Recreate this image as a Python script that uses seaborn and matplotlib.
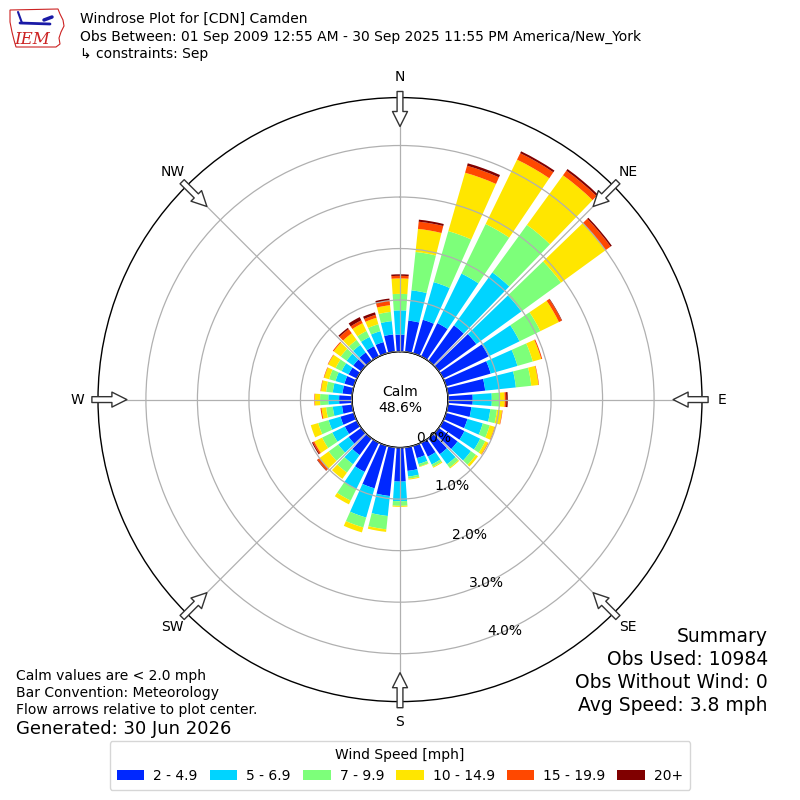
import numpy as np
import matplotlib
matplotlib.use("Agg")
import matplotlib.pyplot as plt
from matplotlib.patches import Patch, Circle, Polygon
import seaborn as sns

# ---------------- data (percent of observations) ----------------
directions = list(range(0, 360, 10))
speed_bins = ["2 - 4.9", "5 - 6.9", "7 - 9.9", "10 - 14.9", "15 - 19.9", "20+"]
bin_colors = ["#0028ff", "#00d4ff", "#7dff7a", "#ffe600", "#ff4800", "#800000"]

freq_2_5 = [0.33, 0.61, 0.68, 0.72, 0.85, 0.90, 0.98, 0.90, 0.73, 0.48, 0.46, 0.43,
            0.46, 0.45, 0.38, 0.30, 0.25, 0.46, 0.66, 0.95, 0.86, 0.63, 0.40, 0.30,
            0.26, 0.27, 0.20, 0.25, 0.19, 0.19, 0.18, 0.19, 0.20, 0.22, 0.23, 0.34]
freq_5_7 = [0.47, 0.59, 0.76, 1.07, 1.27, 1.08, 0.67, 0.54, 0.60, 0.37, 0.37, 0.31,
            0.34, 0.32, 0.24, 0.17, 0.12, 0.11, 0.38, 0.39, 0.59, 0.37, 0.22, 0.25,
            0.27, 0.24, 0.18, 0.21, 0.19, 0.18, 0.15, 0.16, 0.18, 0.20, 0.22, 0.26]
freq_7_10 = [0.32, 0.75, 1.03, 1.07, 1.14, 0.95, 0.45, 0.31, 0.30, 0.16, 0.13, 0.14,
             0.11, 0.12, 0.08, 0.05, 0.05, 0.04, 0.09, 0.26, 0.20, 0.25, 0.20, 0.23,
             0.22, 0.21, 0.13, 0.16, 0.13, 0.13, 0.13, 0.14, 0.12, 0.13, 0.14, 0.18]
freq_10_15 = [0.30, 0.45, 1.18, 1.39, 1.19, 1.07, 0.40, 0.17, 0.14, 0.09, 0.10, 0.10,
              0.06, 0.05, 0.02, 0.02, 0.01, 0.02, 0.02, 0.05, 0.10, 0.08, 0.15, 0.22,
              0.17, 0.15, 0.09, 0.10, 0.10, 0.10, 0.16, 0.17, 0.16, 0.17, 0.13, 0.13]
freq_15_20 = [0.05, 0.14, 0.14, 0.14, 0.11, 0.12, 0.06, 0.02, 0.01, 0.03, 0.01, 0.01,
              0.01, 0.00, 0.00, 0.00, 0.00, 0.00, 0.00, 0.00, 0.00, 0.00, 0.00, 0.05,
              0.03, 0.00, 0.02, 0.01, 0.01, 0.01, 0.01, 0.02, 0.10, 0.06, 0.06, 0.09]
freq_20p = [0.03, 0.04, 0.05, 0.04, 0.04, 0.03, 0.01, 0.00, 0.00, 0.03, 0.00, 0.00,
            0.00, 0.00, 0.00, 0.00, 0.00, 0.00, 0.00, 0.00, 0.00, 0.00, 0.00, 0.01,
            0.02, 0.00, 0.00, 0.00, 0.00, 0.00, 0.00, 0.00, 0.03, 0.07, 0.05, 0.04]
series = [freq_2_5, freq_5_7, freq_7_10, freq_10_15, freq_15_20, freq_20p]

calm_pct = 48.6
ring_ticks = [0, 1, 2, 3, 4]
compass_angles = [0, 45, 90, 135, 180, 225, 270, 315]
compass_labels = ["N", "NE", "E", "SE", "S", "SW", "W", "NW"]

title_lines = ["Windrose Plot for [CDN] Camden",
               "Obs Between: 01 Sep 2009 12:55 AM - 30 Sep 2025 11:55 PM America/New_York",
               "\u21b3 constraints: Sep"]
left_notes = ["Calm values are < 2.0 mph", "Bar Convention: Meteorology",
              "Flow arrows relative to plot center."]
generated = "Generated: 30 Jun 2026"
summary_lines = ["Summary", "Obs Used: 10984", "Obs Without Wind: 0", "Avg Speed: 3.8 mph"]

# ---------------- style ----------------
sns.set_theme(style="white", rc={"text.color": "black", "axes.labelcolor": "black",
                                 "xtick.color": "black", "ytick.color": "black"})
plt.rcParams["font.family"] = ["DejaVu Sans"]
palette = sns.color_palette(bin_colors)

fig = plt.figure(figsize=(8, 8), dpi=100)
ax = fig.add_axes([0.1225, 0.123, 0.755, 0.755], projection="polar")
ax.set_theta_zero_location("N")
ax.set_theta_direction(-1)
rmax = 4.93
ax.set_ylim(0, rmax)
ax.set_rorigin(-0.932)

theta = np.deg2rad(directions)
width = np.deg2rad(10) * 0.8
bottom = np.zeros(len(directions))
for vals, col, lab in zip(series, palette, speed_bins):
    v = np.array(vals)
    ax.bar(theta, v, width=width, bottom=bottom, color=col, edgecolor="none",
           linewidth=0, label=lab, zorder=1)
    bottom = bottom + v

ax.set_axisbelow(False)
ax.grid(True, color="#b0b0b0", lw=0.9)
ax.set_xticks(np.deg2rad(compass_angles))
ax.set_xticklabels(compass_labels, fontsize=10, color="black")
ax.tick_params(axis="x", pad=1.5)
ax.set_yticks(ring_ticks)
ax.set_yticklabels([f"{v:.1f}%" for v in ring_ticks], fontsize=10, color="black")
ax.set_rlabel_position(160)
for lbl in ax.get_yticklabels():
    lbl.set_ha("left")
    lbl.set_va("bottom")
for name, sp in ax.spines.items():
    sp.set_color("black")
    sp.set_linewidth(1.0)

# calm circle (below the tick labels so 0.0% shows on top)
calm = Circle((0.5, 0.5), 48 / 604, transform=ax.transAxes, facecolor="white",
              edgecolor="black", lw=1.0, zorder=2, clip_on=False)
ax.add_artist(calm)
ax.text(0.5, 0.5, f"Calm\n{calm_pct:.1f}%", transform=ax.transAxes, ha="center",
        va="center", fontsize=10, zorder=6, linespacing=1.2)

# flow arrows (pointing to plot center)
r_tip = (273 - 48) / 51.5
r_tail = (308 - 48) / 51.5
for a in compass_angles:
    ax.annotate("", xy=(np.deg2rad(a), r_tip), xytext=(np.deg2rad(a), r_tail),
                arrowprops=dict(arrowstyle="simple,head_length=0.9,head_width=0.9,tail_width=0.35",
                                fc="white", ec="#333333", lw=1.0, shrinkA=0, shrinkB=0,
                                mutation_scale=12),
                annotation_clip=False, zorder=7)

# header text
for i, t in enumerate(title_lines):
    fig.text(80 / 800, 1 - (19 + 17.5 * i) / 800, t, fontsize=10, va="center", ha="left")

# IEM logo (simple)
lax = fig.add_axes([8 / 800, 1 - 50 / 800, 58 / 800, 46 / 800])
lax.set_xlim(0, 58)
lax.set_ylim(0, 46)
lax.axis("off")
outline = [(2, 40), (50, 41), (52, 36), (55, 30), (56, 24), (53, 18), (51, 12),
           (52, 6), (48, 3), (8, 3), (6, 10), (4, 18), (2, 28)]
lax.add_patch(Polygon(outline, closed=True, fill=False, ec="#cc2222", lw=0.8))
lax.plot([12, 42], [27, 26], color="#1a1aa6", lw=2)
lax.plot([14, 10], [27, 38], color="#1a1aa6", lw=1.5)
lax.plot([36, 44], [30, 33], color="#1a1aa6", lw=2.5)
lax.text(24, 11, "IEM", color="#cc2222", fontsize=12, family="DejaVu Serif",
         style="italic", ha="center", va="center")

# left notes
for i, t in enumerate(left_notes):
    fig.text(16 / 800, 1 - (676 + 17 * i) / 800, t, fontsize=10, va="center", ha="left")
fig.text(16 / 800, 1 - 729 / 800, generated, fontsize=13, va="center", ha="left")

# summary
for i, t in enumerate(summary_lines):
    fig.text(768 / 800, 1 - (636 + 23.3 * i) / 800, t, fontsize=13.5, va="center", ha="right")

# legend
handles = [Patch(facecolor=c, edgecolor="none") for c in palette]
fig.legend(handles, speed_bins, loc="lower center", bbox_to_anchor=(0.5, 0.004), ncol=6,
           title="Wind Speed [mph]", fontsize=10, title_fontsize=10, frameon=True,
           handlelength=2.0, handleheight=0.7, handletextpad=0.65, columnspacing=0.85,
           borderpad=0.5, edgecolor="#cccccc")

fig.savefig("out.png", dpi=100)
